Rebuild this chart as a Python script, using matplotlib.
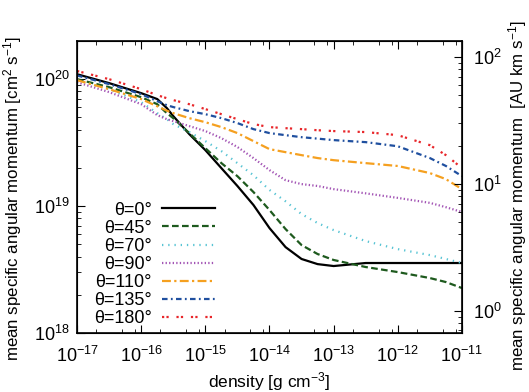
import numpy as np
import matplotlib
matplotlib.use("Agg")
import matplotlib.pyplot as plt
from matplotlib.ticker import LogLocator, NullFormatter

plt.rcParams['font.family'] = ['Liberation Sans', 'DejaVu Sans']
plt.rcParams['mathtext.default'] = 'regular'

# density samples [g cm^-3]
density = [1e-17, 3.16e-17, 1e-16, 1.78e-16, 2.51e-16, 3.16e-16, 5.62e-16,
           1e-15, 1.78e-15, 3.16e-15, 5.62e-15, 1e-14, 1.78e-14, 3.16e-14,
           5.62e-14, 1e-13, 3.16e-13, 1e-12, 3.16e-12, 5.62e-12, 1e-11]

# mean specific angular momentum in units of 1e19 cm^2 s^-1
j_0 = [10.94, 9.31, 7.76, 6.97, 5.92, 5.12, 3.69, 2.76, 1.99, 1.44, 1.02,
       0.671, 0.475, 0.383, 0.349, 0.337, 0.356, 0.356, 0.356, 0.356, 0.356]
j_45 = [10.0, 8.65, 7.21, 6.35, 5.40, 4.93, 3.76, 2.86, 2.18, 1.72, 1.29,
        0.931, 0.659, 0.493, 0.419, 0.376, 0.331, 0.302, 0.271, 0.252, 0.226]
j_70 = [9.82, 8.34, 6.59, 5.40, 4.84, 4.43, 3.83, 3.25, 2.71, 2.18, 1.75,
        1.34, 1.09, 0.865, 0.735, 0.647, 0.530, 0.458, 0.411, 0.383, 0.356]
j_90 = [9.46, 7.91, 6.35, 5.21, 4.84, 4.67, 4.27, 3.90, 3.43, 2.92, 2.39,
        1.92, 1.60, 1.49, 1.44, 1.36, 1.26, 1.16, 1.06, 0.98, 0.898]
j_110 = [9.82, 8.34, 6.97, 6.12, 5.65, 5.40, 4.93, 4.58, 4.19, 3.76, 3.25,
         2.81, 2.66, 2.52, 2.39, 2.30, 2.18, 2.07, 1.82, 1.63, 1.36]
j_135 = [10.7, 9.14, 7.62, 6.71, 6.24, 6.03, 5.60, 5.30, 4.93, 4.51, 4.04,
         3.76, 3.62, 3.49, 3.40, 3.31, 3.19, 2.96, 2.39, 2.07, 1.72]
j_180 = [11.6, 10.0, 8.34, 7.48, 7.08, 6.84, 6.35, 5.81, 5.30, 4.84, 4.43,
         4.19, 4.11, 4.04, 3.96, 3.90, 3.83, 3.62, 3.02, 2.52, 1.99]

labels = ["θ=0°", "θ=45°", "θ=70°", "θ=90°", "θ=110°", "θ=135°", "θ=180°"]
series = [j_0, j_45, j_70, j_90, j_110, j_135, j_180]
colors = ["black", "#1e5a1e", "#58c4d4", "#a355b5", "#f5a020", "#1f4f9f", "#e8262a"]
dashes = [None, (3, 1.5), (0.6, 2.2), (0.6, 1.0), (4, 1.5, 1, 1.5),
          (2.5, 1.5, 0.8, 1.5), (1, 1, 1, 3.5)]

xticks = [1e-17, 1e-16, 1e-15, 1e-14, 1e-13, 1e-12, 1e-11]
xticklabels = ["10$^{-17}$", "10$^{-16}$", "10$^{-15}$", "10$^{-14}$",
               "10$^{-13}$", "10$^{-12}$", "10$^{-11}$"]

AU_KM = 1.496e18  # 1 AU km s^-1 in cm^2 s^-1

fig = plt.figure(figsize=(5.29, 3.92), dpi=100)
ax = fig.add_axes([0.1456, 0.1505, 0.7277, 0.745])

for vals, lab, c, d in zip(series, labels, colors, dashes):
    y = np.array(vals) * 1e19
    if d is None:
        ax.plot(density, y, color=c, lw=1.6, label=lab)
    else:
        ax.plot(density, y, color=c, lw=1.6, dashes=d, label=lab)

ax.set_xscale('log')
ax.set_yscale('log')
ax.set_xlim(1e-17, 1e-11)
ax.set_ylim(1e18, 2e20)

ax.set_xticks(xticks)
ax.set_xticklabels(xticklabels)
ax.xaxis.set_minor_locator(LogLocator(base=10, subs=[2, 5, 8], numticks=10))
ax.xaxis.set_minor_formatter(NullFormatter())
ax.tick_params(axis='x', which='both', direction='in', top=True, labelsize=13, pad=9)
ax.tick_params(axis='y', which='both', direction='in', right=False, labelsize=13, pad=5)
ax.tick_params(which='major', length=6)
ax.tick_params(which='minor', length=3)

ax.set_xlabel("density [g cm$^{-3}$]", fontsize=12.5, labelpad=3)
ax.set_ylabel("mean specific angular momentum [cm$^{2}$ s$^{-1}$]", fontsize=12.2)
ax.yaxis.set_label_coords(-0.137, 0.46)

ax2 = ax.twinx()
ax2.set_yscale('log')
ax2.set_ylim(1e18 / AU_KM, 2e20 / AU_KM)
ax2.tick_params(axis='y', which='both', direction='in', labelsize=13, pad=8)
ax2.tick_params(which='major', length=6)
ax2.tick_params(which='minor', length=3)
ax2.set_ylabel("mean specific angular momentum  [AU km s$^{-1}$]", fontsize=12.2)
ax2.yaxis.set_label_coords(1.115, 0.47)

leg = ax.legend(loc='lower right', bbox_to_anchor=(0.358, 0.02), frameon=False,
                markerfirst=False, fontsize=13, handlelength=2.9, handletextpad=0.6,
                labelspacing=0.06, borderpad=0, borderaxespad=0)

for sp in ax.spines.values():
    sp.set_linewidth(1.2)

fig.savefig("out.png", dpi=100)
